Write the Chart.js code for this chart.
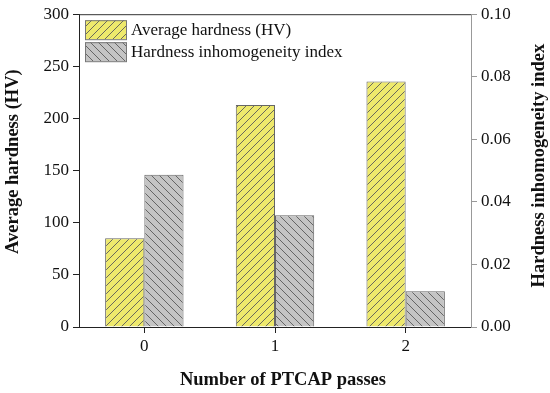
<!DOCTYPE html>
<html>
<head>
<meta charset="utf-8">
<script src="https://cdn.jsdelivr.net/npm/chart.js@4/dist/chart.umd.min.js"></script>
<style>
  html, body { margin: 0; padding: 0; background: #fff; }
  #wrap { width: 550px; height: 393px; }
</style>
</head>
<body>
<div id="wrap"><canvas id="c" width="550" height="393"></canvas></div>
<script>
// values
const passes = ['0', '1', '2'];
const avgHardness = [85, 213, 235.5];
const inhomogeneity = [0.0487, 0.0357, 0.0114];
const leftTicks = [0, 50, 100, 150, 200, 250, 300];
const rightTicks = [0, 0.02, 0.04, 0.06, 0.08, 0.10];
const xTitle = 'Number of PTCAP passes';
const leftTitle = 'Average hardness (HV)';
const rightTitle = 'Hardness inhomogeneity index';

const SERIF = '"Liberation Serif", "DejaVu Serif", serif';
const TITLE_FONT = 'bold 18.5px ' + SERIF;

function hatch(bg, dir) {
  const s = 8;
  const c = document.createElement('canvas');
  c.width = s; c.height = s;
  const g = c.getContext('2d');
  g.fillStyle = bg;
  g.fillRect(0, 0, s, s);
  g.strokeStyle = '#5a5a5a';
  g.lineWidth = 0.9;
  g.beginPath();
  if (dir > 0) {
    g.moveTo(0, s); g.lineTo(s, 0);
    g.moveTo(-s / 2, s / 2); g.lineTo(s / 2, -s / 2);
    g.moveTo(s / 2, s * 1.5); g.lineTo(s * 1.5, s / 2);
  } else {
    g.moveTo(0, 0); g.lineTo(s, s);
    g.moveTo(-s / 2, s / 2); g.lineTo(s / 2, s * 1.5);
    g.moveTo(s / 2, -s / 2); g.lineTo(s * 1.5, s / 2);
  }
  g.stroke();
  return g.createPattern(c, 'repeat');
}

const yellowHatch = hatch('#eee96c', 1);
const greyHatch = hatch('#c4c4c4', -1);

function vText(ctx, text, x, y) {
  ctx.save();
  ctx.translate(x, y);
  ctx.rotate(-Math.PI / 2);
  ctx.fillText(text, 0, 0);
  ctx.restore();
}

// frame top, stacked legend inside the plot, axis titles (both y titles read bottom-to-top)
const extras = {
  id: 'extras',
  afterDraw(chart) {
    const ctx = chart.ctx;
    const a = chart.chartArea;
    ctx.save();
    ctx.strokeStyle = '#333';
    ctx.lineWidth = 1;
    ctx.beginPath();
    ctx.moveTo(a.left, a.top + 0.5);
    ctx.lineTo(a.right, a.top + 0.5);
    ctx.stroke();

    chart.data.datasets.forEach((ds, i) => {
      const x = a.left + 6, y = a.top + 6 + i * 22;
      ctx.fillStyle = ds.backgroundColor;
      ctx.fillRect(x, y, 42, 19);
      ctx.strokeStyle = '#777';
      ctx.strokeRect(x + 0.5, y + 0.5, 41, 19);
      ctx.fillStyle = '#111';
      ctx.font = '17px ' + SERIF;
      ctx.textBaseline = 'middle';
      ctx.fillText(ds.label, x + 46, y + 10);
    });

    ctx.font = TITLE_FONT;
    ctx.textAlign = 'center';
    ctx.textBaseline = 'middle';
    ctx.fillStyle = '#111';
    ctx.fillText(xTitle, (a.left + a.right) / 2 + 8, 380);
    vText(ctx, leftTitle, 13, (a.top + a.bottom) / 2 - 9);
    vText(ctx, rightTitle, 539, (a.top + a.bottom) / 2 - 5);
    ctx.restore();
  }
};

new Chart(document.getElementById('c'), {
  type: 'bar',
  data: {
    labels: passes,
    datasets: [
      { label: 'Average hardness (HV)', data: avgHardness, yAxisID: 'y',
        backgroundColor: yellowHatch, borderColor: '#666', borderWidth: 1 },
      { label: 'Hardness inhomogeneity index', data: inhomogeneity, yAxisID: 'y1',
        backgroundColor: greyHatch, borderColor: '#666', borderWidth: 1 }
    ]
  },
  options: {
    responsive: false,
    animation: false,
    events: [],
    layout: { padding: { top: 10, left: 0, right: 0, bottom: 0 } },
    datasets: { bar: { categoryPercentage: 0.6, barPercentage: 1 } },
    plugins: { legend: { display: false }, tooltip: { enabled: false } },
    scales: {
      x: {
        offset: true,
        grid: { display: true, drawOnChartArea: false, tickLength: 6, color: '#222', offset: false },
        border: { display: true, color: '#222', width: 1 },
        ticks: { color: '#111', font: { family: SERIF, size: 17 }, padding: 3 },
        afterFit(s) { s.height = 66; }
      },
      y: {
        position: 'left', min: 0, max: 300,
        afterBuildTicks(s) { s.ticks = leftTicks.map(v => ({ value: v })); },
        grid: { drawOnChartArea: false, tickLength: 6, color: '#222' },
        border: { display: true, color: '#222', width: 1 },
        ticks: { color: '#111', font: { family: SERIF, size: 17 }, padding: 4 },
        afterFit(s) { s.width = 79; }
      },
      y1: {
        position: 'right', min: 0, max: 0.1,
        afterBuildTicks(s) { s.ticks = rightTicks.map(v => ({ value: v })); },
        grid: { drawOnChartArea: false, tickLength: 6, color: '#999' },
        border: { display: true, color: '#999', width: 1 },
        ticks: { color: '#111', font: { family: SERIF, size: 17 }, padding: 4,
                 callback: v => v.toFixed(2) },
        afterFit(s) { s.width = 79; }
      }
    }
  },
  plugins: [extras]
});
</script>
</body>
</html>
